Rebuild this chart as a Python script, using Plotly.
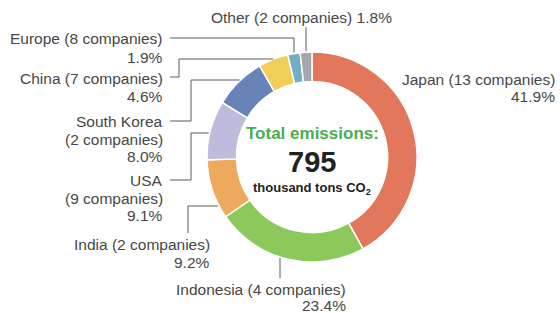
import math
import plotly.graph_objects as go

regions = ["Japan", "Indonesia", "India", "USA", "South Korea", "China", "Europe", "Other"]
companies = [13, 4, 2, 9, 2, 7, 8, 2]
shares = [41.9, 23.4, 9.2, 9.1, 8.0, 4.6, 1.9, 1.8]
colors = ["#E2775C", "#8DC85B", "#EDAA5F", "#BEBBDC", "#6883B7", "#F0CE58", "#74AEC5", "#A5A6AA"]
total_emissions = 795

W, H = 560, 313
CX, CY, R = 312, 157, 105
HOLE = 0.72
TXT = "#474747"
LINE = "#5a5a5a"
FONT = "Liberation Sans, Arial, Helvetica, sans-serif"
FS = 15.5


def px(x):
    return x / W


def py(y):
    return 1 - y / H


def ring_x(y, gap=1):
    return CX - math.sqrt(R * R - (y - CY) ** 2) - gap


def ring_y_top(x, gap=1):
    return CY - math.sqrt(R * R - (x - CX) ** 2) - gap


def ring_y_bot(x, gap=1):
    return CY + math.sqrt(R * R - (x - CX) ** 2) + gap


fig = go.Figure(go.Pie(
    labels=regions,
    values=shares,
    sort=False,
    direction="clockwise",
    rotation=0,
    hole=HOLE,
    marker=dict(colors=colors, line=dict(color="white", width=1.5)),
    textinfo="none",
    hoverinfo="label+percent",
    domain=dict(x=[px(CX - R), px(CX + R)], y=[py(CY + R), py(CY - R)]),
    showlegend=False,
))

anns = []


def label(lines, xr, ys, anchor="right"):
    for t, y in zip(lines, ys):
        anns.append(dict(x=px(xr), y=py(y), xref="paper", yref="paper", text=t,
                         showarrow=False, xanchor=anchor, yanchor="middle",
                         font=dict(family=FONT, size=FS, color=TXT)))


def txt(i):
    return f"{regions[i]} ({companies[i]} companies)", f"{shares[i]:.1f}%"


a, b = txt(0)
label([a, b], 557, [79, 97])
a, b = txt(1)
label([a, b], 348, [289, 305])
a, b = txt(2)
label([a, b], 212, [244, 262])
label(["USA", f"({companies[3]} companies)", f"{shares[3]:.1f}%"], 165, [180, 198, 215])
label(["South Korea", f"({companies[4]} companies)", f"{shares[4]:.1f}%"], 165, [121, 139, 156])
a, b = txt(5)
label([a, b], 165, [78, 96])
a, b = txt(6)
label([a, b], 165, [38, 57])
anns.append(dict(x=px(301), y=py(17), xref="paper", yref="paper",
                 text=f"{regions[7]} ({companies[7]} companies) {shares[7]:.1f}%",
                 showarrow=False, xanchor="center", yanchor="middle",
                 font=dict(family=FONT, size=FS, color=TXT)))

# center text
anns.append(dict(x=px(CX), y=py(133), xref="paper", yref="paper", text="<b>Total emissions:</b>",
                 showarrow=False, xanchor="center", yanchor="middle",
                 font=dict(family=FONT, size=17, color="#4AAE4E")))
anns.append(dict(x=px(CX), y=py(162), xref="paper", yref="paper", text=f"<b>{total_emissions}</b>",
                 showarrow=False, xanchor="center", yanchor="middle",
                 font=dict(family=FONT, size=29, color="#222222")))
anns.append(dict(x=px(CX), y=py(188), xref="paper", yref="paper",
                 text="<b>thousand tons CO<sub>2</sub></b>",
                 showarrow=False, xanchor="center", yanchor="middle",
                 font=dict(family=FONT, size=13, color="#222222")))

# leader lines
paths = []
paths.append([(306, 27), (306, ring_y_top(306))])
paths.append([(170, 38), (294, 38), (294, ring_y_top(294))])
paths.append([(170, 77), (179, 77), (179, 59), (ring_x(59), 59)])
paths.append([(170, 121), (191, 121), (191, 80), (ring_x(80), 80)])
paths.append([(170, 180), (191, 180), (191, 133), (ring_x(133), 133)])
paths.append([(188, 233), (188, 206), (ring_x(206), 206)])
paths.append([(280, 278), (280, ring_y_bot(280))])

shapes = []
for p in paths:
    for (x0, y0), (x1, y1) in zip(p[:-1], p[1:]):
        shapes.append(dict(type="line", xref="paper", yref="paper",
                           x0=px(x0), y0=py(y0), x1=px(x1), y1=py(y1),
                           line=dict(color=LINE, width=1)))

fig.update_layout(
    width=W, height=H,
    margin=dict(l=0, r=0, t=0, b=0),
    paper_bgcolor="white", plot_bgcolor="white",
    annotations=anns, shapes=shapes,
)
fig.write_html(
    "out.html",
    config={"displayModeBar": False},
    post_script="document.body.style.margin='0';document.body.style.overflow='hidden';",
)
